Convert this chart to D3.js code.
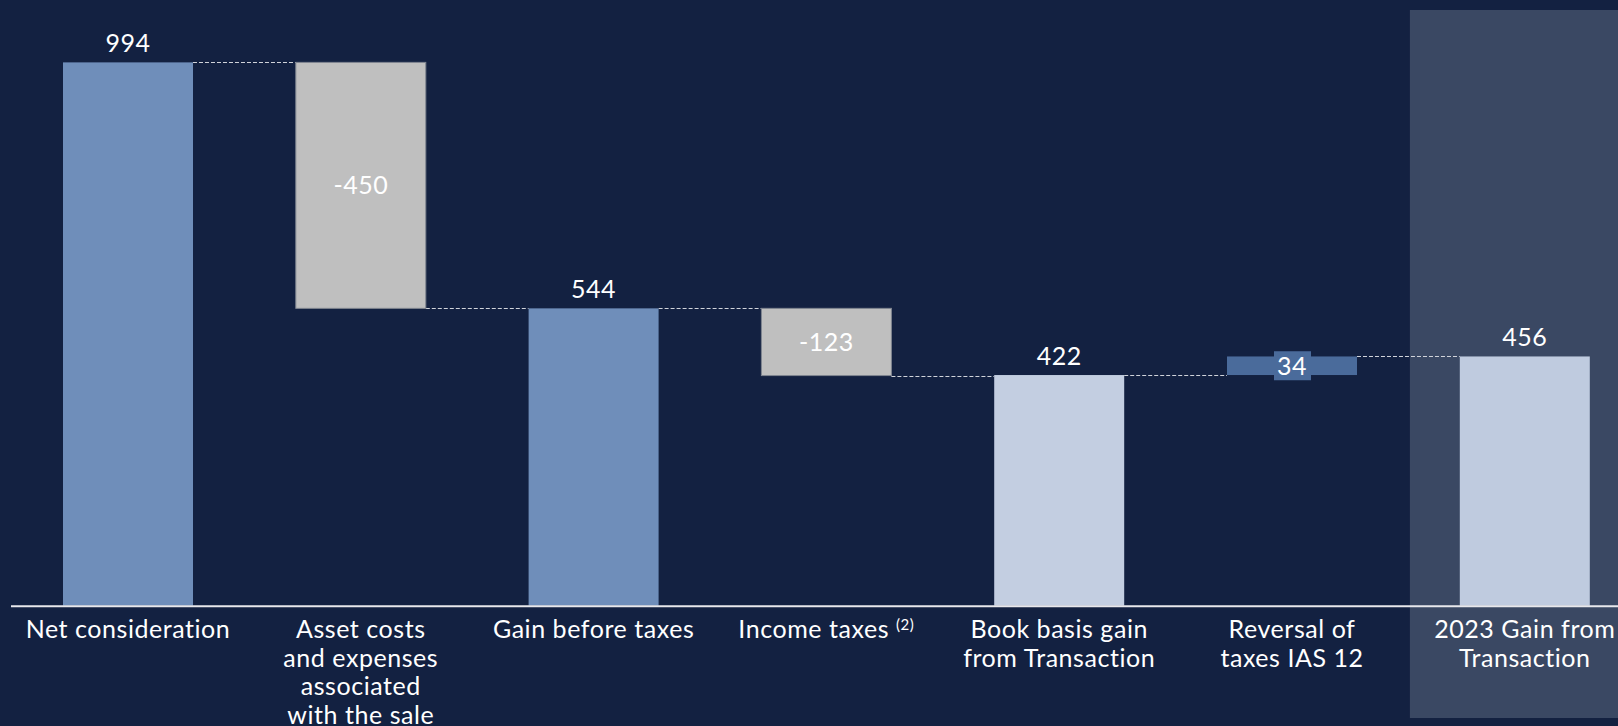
<!DOCTYPE html>
<html>
<head>
<meta charset="utf-8">
<script src="https://cdn.jsdelivr.net/npm/d3@7"></script>
<style>
  html, body { margin: 0; padding: 0; background: #132141; }
  svg { display: block; }
  text { font-family: "Lato", "Noto Sans", sans-serif; fill: #ffffff; }
</style>
</head>
<body>
<svg id="chart" width="1618" height="726"></svg>
<script>
const categories = ["Net consideration", "Asset costs and expenses associated with the sale", "Gain before taxes", "Income taxes", "Book basis gain from Transaction", "Reversal of taxes IAS 12", "2023 Gain from Transaction"];
const labelLines = [["Net consideration"], ["Asset costs", "and expenses", "associated", "with the sale"], ["Gain before taxes"], ["Income taxes"], ["Book basis gain", "from Transaction"], ["Reversal of", "taxes IAS 12"], ["2023 Gain from", "Transaction"]];
const labelSup = ["", "", "", "(2)", "", "", ""];
const values = [994, -450, 544, -123, 422, 34, 456];
const kinds = ["total", "delta", "total", "delta", "total", "delta", "total"];
const colors = ["#6f8eba", "#bfbfbf", "#6f8eba", "#bfbfbf", "#c3cee1", "#4a6b9b", "#bfcbdf"];

const W = 1618, H = 726;
const svg = d3.select("#chart");

const x = d3.scaleBand().domain(categories).range([11.6, 1641.2]).paddingInner(0.4416).paddingOuter(0.2208);
const y = d3.scaleLinear().domain([0, 1100]).range([605.7, 4.44]);

// compute waterfall segments
let running = 0;
const bars = categories.map((c, i) => {
  let y0, y1;
  if (kinds[i] === "total") { y0 = 0; y1 = values[i]; running = values[i]; }
  else { y0 = running; y1 = running + values[i]; running = y1; }
  return { c, i, v: values[i], kind: kinds[i], lo: Math.min(y0, y1), hi: Math.max(y0, y1), end: y1 };
});

// highlight panel for final category
svg.append("rect")
  .attr("x", x(categories[6]) - (x.step() - x.bandwidth()) / 2 + 1.5)
  .attr("y", 10)
  .attr("width", W)
  .attr("height", 708)
  .attr("fill", "#3a4863");

// connectors
for (let i = 0; i < bars.length - 1; i++) {
  const lvl = bars[i].end;
  svg.append("line")
    .attr("x1", x(bars[i].c) + x.bandwidth())
    .attr("x2", x(bars[i + 1].c))
    .attr("y1", Math.round(y(lvl)) + 0.5)
    .attr("y2", Math.round(y(lvl)) + 0.5)
    .attr("stroke", "#d0d3da")
    .attr("stroke-width", 1)
    .attr("stroke-dasharray", "4,2");
}

// bars
svg.selectAll("rect.bar").data(bars).join("rect")
  .attr("class", "bar")
  .attr("x", d => x(d.c))
  .attr("y", d => y(d.hi))
  .attr("width", x.bandwidth())
  .attr("height", d => y(d.lo) - y(d.hi))
  .attr("fill", (d, i) => colors[i])
  .attr("stroke", d => d.kind === "delta" && d.v < 0 ? "#7f8590" : "none")
  .attr("stroke-width", 1);

// axis baseline
svg.append("line")
  .attr("x1", 11).attr("x2", W)
  .attr("y1", y(0) + 0.5).attr("y2", y(0) + 0.5)
  .attr("stroke", "#e8e8ec").attr("stroke-width", 2);

// value labels
const fmt = v => String(v);
bars.forEach((d, i) => {
  const cx = x(d.c) + x.bandwidth() / 2;
  if (d.kind === "total") {
    svg.append("text").attr("x", cx).attr("y", y(d.hi) - 10.5)
      .attr("text-anchor", "middle").attr("font-size", 25).attr("letter-spacing", 0.5).text(fmt(d.v));
  } else {
    const cy = (y(d.hi) + y(d.lo)) / 2;
    if (d.v > 0) {
      svg.append("rect").attr("x", cx - 18).attr("y", cy - 14.5).attr("width", 37).attr("height", 29)
        .attr("fill", colors[i]);
    }
    svg.append("text").attr("x", cx).attr("y", cy).attr("dy", "0.36em")
      .attr("text-anchor", "middle").attr("font-size", 25).attr("letter-spacing", 0.5).text(fmt(d.v));
  }
});

// category labels
bars.forEach((d, i) => {
  const cx = x(d.c) + x.bandwidth() / 2;
  const t = svg.append("text").attr("x", cx).attr("y", 638.3).attr("text-anchor", "middle")
    .attr("font-size", 25).attr("letter-spacing", 0.55);
  labelLines[i].forEach((ln, k) => {
    t.append("tspan").attr("x", cx).attr("dy", k === 0 ? 0 : 28.5).text(ln);
    if (k === 0 && labelSup[i]) {
      t.append("tspan").attr("dx", 7).attr("dy", -8).attr("font-size", 15).text(labelSup[i]);
    }
  });
});
</script>
</body>
</html>
